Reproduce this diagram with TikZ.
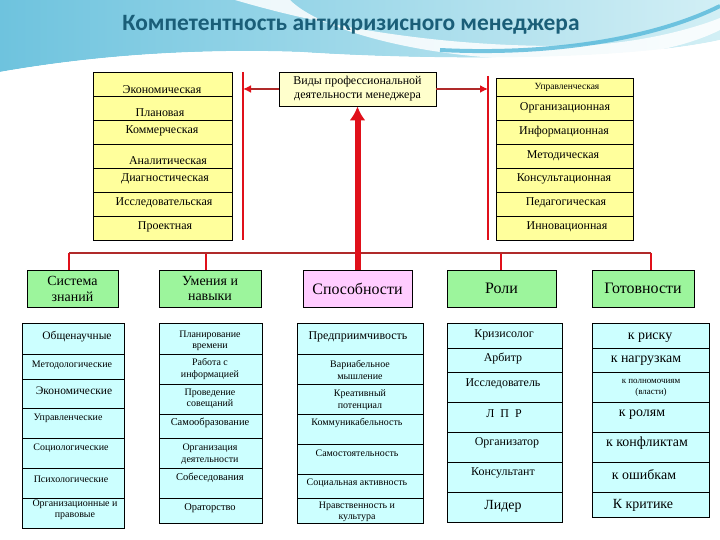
\documentclass[tikz,border=0pt]{standalone}
\usepackage{fontspec}
\setmainfont{Liberation Serif}
\newfontfamily\titlefont{Carlito}
\usetikzlibrary{arrows.meta}
\definecolor{ylw}{HTML}{FFFF9C}
\definecolor{ylwl}{HTML}{FFFFCC}
\definecolor{grn}{HTML}{9CF59C}
\definecolor{pnk}{HTML}{FFCCFF}
\definecolor{cyn}{HTML}{CCFFFF}
\definecolor{ttl}{HTML}{1A5E78}
\definecolor{rd}{HTML}{E0101A}
\definecolor{busc}{HTML}{B02A2A}
\definecolor{bgA}{HTML}{6EC3DE}
\definecolor{bgB}{HTML}{D2EFF5}
\definecolor{bgS}{HTML}{55B8DA}
\tikzset{
  txt/.style={inner sep=0pt, font=\fontsize{#1}{#1}\selectfont},
  txtt/.style={inner sep=0pt, align=center, font=\fontsize{#1}{11.5}\selectfont},
  ycell/.style={draw=black, fill=ylw, line width=0.7bp},
  ccell/.style={draw=black, fill=cyn, line width=0.7bp},
  hdr/.style={draw=black, line width=0.8bp, minimum height=37bp, inner sep=0pt, align=center},
  redline/.style={draw=rd, line width=2bp},
  drop/.style={draw=rd, line width=1.8bp},
  bus/.style={draw=busc, line width=2.6bp},
  sidearrow/.style={draw=busc, line width=2bp, -{Latex[length=8bp,width=8bp,color=rd]}},
}
\begin{document}
\begin{tikzpicture}[x=1bp,y=-1bp]
\useasboundingbox (0,0) rectangle (720,540);
% background decoration
\shade[left color=bgA, right color=bgB] (0,0) -- (720,0) -- (720,40) .. controls (620,62) and (420,60) .. (300,52) .. controls (180,48) and (80,58) .. (0,72) -- cycle;
\fill[white, opacity=0.85] (235,0) .. controls (330,28) and (440,46) .. (560,46) .. controls (630,46) and (690,30) .. (720,18) -- (720,30) .. controls (680,50) and (620,60) .. (540,60) .. controls (420,58) and (320,30) .. (290,0) -- cycle;
\draw[bgS, line width=4bp, opacity=0.8] (440,50) .. controls (560,56) and (660,36) .. (720,6);
\fill[white] (0,72) .. controls (80,58) and (180,48) .. (300,52) .. controls (420,60) and (620,62) .. (720,40) -- (720,70) -- (0,80) -- cycle;
% title
\node[inner sep=0pt, font=\titlefont\bfseries\fontsize{23.5}{23.5}\selectfont, text=ttl] (title) at (351,25) {Компетентность антикризисного менеджера};

% left yellow table
\foreach \a/\b in {72/96,96/120,120/144,144/168,168/192,192/216,216/240}
  \draw[ycell] (93,\a) rectangle (232,\b);
\node[txt=12] (l1) at (162,90) {Экономическая};
\node[txt=12] (l2) at (160,113) {Плановая};
\node[txt=12] (l3) at (162,131) {Коммерческая};
\node[txt=12] (l4) at (168,161) {Аналитическая};
\node[txt=12] (l5) at (165,179) {Диагностическая};
\node[txt=12] (l6) at (164,203) {Исследовательская};
\node[txt=12] (l7) at (165,227) {Проектная};

% right yellow table
\foreach \a/\b in {78/96,96/120,120/144,144/168,168/192,192/216,216/240}
  \draw[ycell] (496,\a) rectangle (633,\b);
\node[txt=9.5] (r1) at (567,87) {Управленческая};
\node[txt=12] (r2) at (565,108) {Организационная};
\node[txt=12] (r3) at (564,132) {Информационная};
\node[txt=12] (r4) at (563,156) {Методическая};
\node[txt=12] (r5) at (564,179) {Консультационная};
\node[txt=12] (r6) at (566,203) {Педагогическая};
\node[txt=12] (r7) at (567,227) {Инновационная};

% center box
\node[draw=black, fill=ylwl, line width=0.8bp, minimum width=157bp, minimum height=34bp, inner sep=0pt, align=center, font=\fontsize{12}{14}\selectfont] (vid) at (357.5,89) {Виды профессиональной\\деятельности менеджера};

% red side lines and arrows
\coordinate (lt) at (243,72);
\coordinate (lb) at (243,240);
\coordinate (rt) at (488,76);
\coordinate (rb) at (488,240);
\draw[redline] (lt) -- (lb);
\draw[redline] (rt) -- (rb);
\draw[sidearrow] (vid.west) -- (lt |- vid.west);
\draw[sidearrow] (vid.east) -- (rt |- vid.east);

% header boxes
\node[hdr, fill=grn, minimum width=91bp, font=\fontsize{14}{16}\selectfont] (sys) at (72.5,288.5) {Система\\знаний};
\node[hdr, fill=grn, minimum width=102bp, font=\fontsize{14}{16}\selectfont] (um) at (210,288.5) {Умения и\\навыки};
\node[hdr, fill=pnk, minimum width=109bp, font=\fontsize{16}{16}\selectfont] (sp) at (357.5,288.5) {Способности};
\node[hdr, fill=grn, minimum width=109bp, font=\fontsize{16}{16}\selectfont] (rol) at (501.5,288.5) {Роли};
\node[hdr, fill=grn, minimum width=102bp, font=\fontsize{16}{16}\selectfont] (got) at (643,288.5) {Готовности};

% bus
\coordinate (bl) at (69,253);
\coordinate (br) at (651,253);
\draw[drop] (bl) -- (bl |- sys.north);
\draw[drop] (206,253) -- (206,270);
\draw[drop] (501,253) -- (501,270);
\draw[drop] (br) -- (br |- got.north);
\draw[bus] (bl) -- (br);
\draw[draw=rd, line width=6bp, -{Latex[length=14bp,width=16bp]}] (sp.north) -- (vid.south);

% column 1
\foreach \a/\b in {323/354,354/379,379/408,408/438,438/468,468/498,498/528}
  \draw[ccell] (22,\a) rectangle (124,\b);
\node[txt=11.5] (a1) at (77,337) {Общенаучные};
\node[txt=10] (a2) at (72,365) {Методологические};
\node[txt=11.5] (a3) at (74,391) {Экономические};
\node[txt=10] (a4) at (68,418) {Управленческие};
\node[txt=10] (a5) at (71,448) {Социологические};
\node[txt=10] (a6) at (71,479) {Психологические};
\node[txtt=10] (a7) at (75,510) {Организационные и\\правовые};

% column 2
\foreach \a/\b in {323/354,354/384,384/414,414/438,438/468,468/498,498/523}
  \draw[ccell] (159,\a) rectangle (262,\b);
\node[txtt=10] (b1) at (210,341) {Планирование\\времени};
\node[txtt=10] (b2) at (210,369) {Работа с\\информацией};
\node[txtt=10] (b3) at (210,399) {Проведение\\совещаний};
\node[txt=10.5] (b4) at (210,423) {Самообразование};
\node[txtt=10] (b5) at (210,454) {Организация\\деятельности};
\node[txt=10.5] (b6) at (210,478) {Собеседования};
\node[txt=10.5] (b7) at (210,508) {Ораторство};

% column 3
\foreach \a/\b in {323/354,354/384,384/414,414/444,444/474,474/498,498/523}
  \draw[ccell] (297,\a) rectangle (423,\b);
\node[txt=12] (c1) at (358,337) {Предприимчивость};
\node[txtt=10] (c2) at (360,370) {Вариабельное\\мышление};
\node[txtt=10] (c3) at (360,400) {Креативный\\потенциал};
\node[txt=10] (c4) at (357,423) {Коммуникабельность};
\node[txt=10] (c5) at (357,453) {Самостоятельность};
\node[txt=10] (c6) at (357,483) {Социальная активность};
\node[txtt=10] (c7) at (357,512) {Нравственность и\\культура};

% column 4
\foreach \a/\b in {323/348,348/372,372/402,402/432,432/462,462/492,492/522}
  \draw[ccell] (447,\a) rectangle (562,\b);
\node[txt=12] (d1) at (504,335) {Кризисолог};
\node[txt=12] (d2) at (503,358) {Арбитр};
\node[txt=12] (d3) at (503,384) {Исследователь};
\node[txt=12] (d4) at (504,414) {Л\ \ П\ \ Р};
\node[txt=12] (d5) at (507,443) {Организатор};
\node[txt=12] (d6) at (503,473) {Консультант};
\node[txt=14] (d7) at (503,506) {Лидер};

% column 5
\foreach \a/\b in {323/348,348/372,372/402,402/432,432/462,462/492,492/517}
  \draw[ccell] (592,\a) rectangle (709,\b);
\node[txt=14] (e1) at (650,338) {к риску};
\node[txt=14] (e2) at (646,361) {к нагрузкам};
\node[txtt=9] (e3) at (651,388) {к полномочиям\\(власти)};
\node[txt=14] (e4) at (642,415) {к ролям};
\node[txt=14] (e5) at (647,443) {к конфликтам};
\node[txt=14] (e6) at (644,475) {к ошибкам};
\node[txt=14] (e7) at (643,505) {К критике};
\end{tikzpicture}
\end{document}
